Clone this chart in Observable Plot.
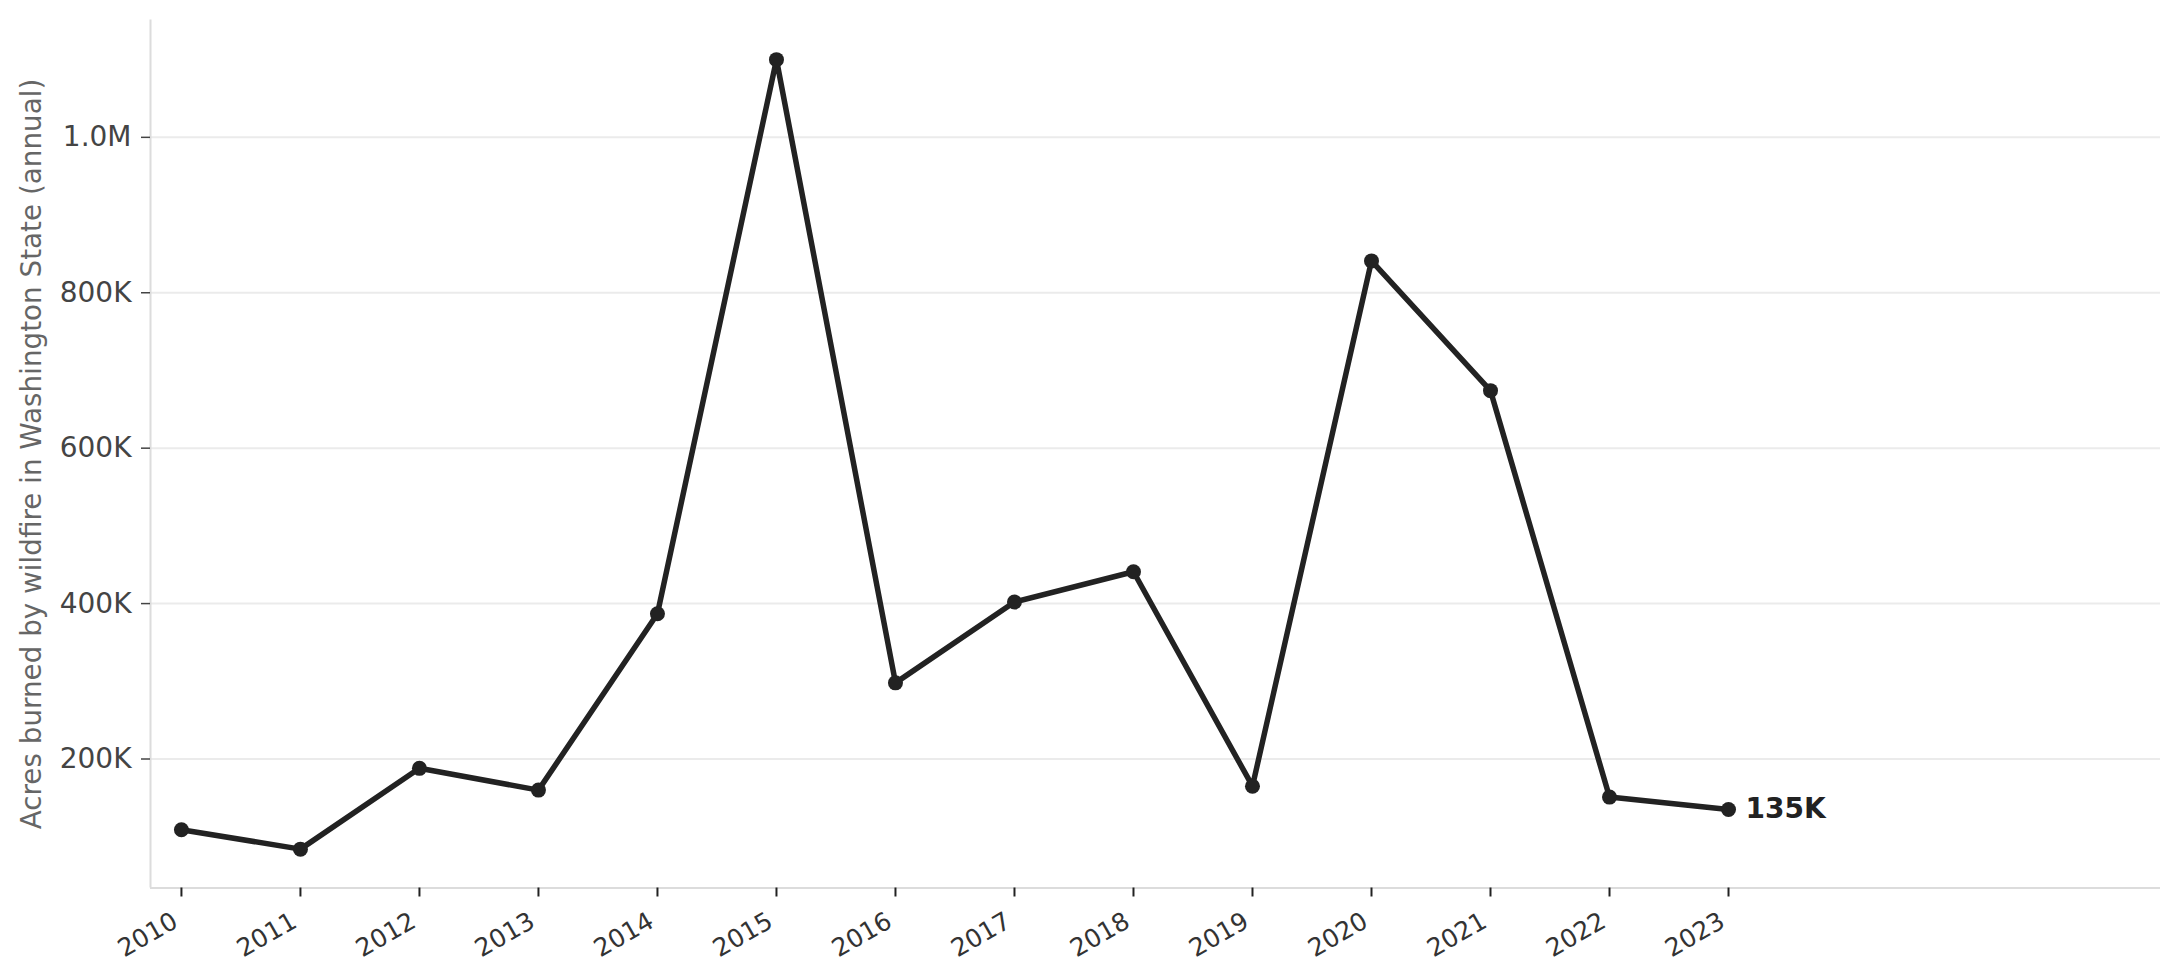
<!DOCTYPE html>
<html>
<head>
<meta charset="utf-8">
<script src="https://cdn.jsdelivr.net/npm/d3@7"></script>
<script src="https://cdn.jsdelivr.net/npm/@observablehq/plot@0.6"></script>
<style>
  html, body { margin: 0; padding: 0; background: #fff; }
  #chart svg { display: block; }
</style>
</head>
<body>
<div id="chart"></div>
<script>
const years = [2010, 2011, 2012, 2013, 2014, 2015, 2016, 2017, 2018, 2019, 2020, 2021, 2022, 2023];
const acres = [109000, 84000, 188000, 160000, 387000, 1100000, 298000, 402000, 441000, 165000, 841000, 674000, 151000, 135000];
const yTicks = [200000, 400000, 600000, 800000, 1000000];
const yTickLabels = ["200K", "400K", "600K", "800K", "1.0M"];
const yLabel = "Acres burned by wildfire in Washington State (annual)";
const lastLabel = "135K";

const xDomain = [2009.74, 2026.63];
const yDomain = [34000, 1151000];

const data = years.map((year, i) => ({year, acres: acres[i]}));
const last = [data[data.length - 1]];

const chart = Plot.plot({
  width: 2180,
  height: 980,
  marginLeft: 150,
  marginRight: 20,
  marginTop: 19.5,
  marginBottom: 92.5,
  style: {fontFamily: "DejaVu Sans", background: "#fff"},
  x: {domain: xDomain},
  y: {domain: yDomain},
  marks: [
    Plot.gridY(yTicks, {stroke: "#ebebeb", strokeOpacity: 1, strokeWidth: 2}),
    Plot.ruleX([xDomain[0]], {stroke: "#dcdcdc", strokeWidth: 2}),
    Plot.ruleY([yDomain[0]], {stroke: "#dcdcdc", strokeWidth: 2}),
    Plot.axisY(yTicks, {
      tickFormat: (d) => yTickLabels[yTicks.indexOf(d)],
      tickSize: 9, tickPadding: 10, fontSize: 28,
      stroke: "#444", strokeWidth: 1.5, fill: "#444", label: null
    }),
    Plot.axisX(years, {
      tickFormat: (d) => String(d),
      tickSize: 9, stroke: "#222", strokeWidth: 2, fill: null, label: null
    }),
    Plot.axisX(years, {
      tickFormat: (d) => String(d),
      tickSize: 0, tickPadding: 31, tickRotate: -30, fontSize: 25, dx: -6,
      fill: "#333", label: null
    }),
    Plot.text([yLabel], {
      frameAnchor: "left", rotate: -90, dx: -118,
      fontSize: 27.8, fill: "#666", textAnchor: "middle"
    }),
    Plot.line(data, {x: "year", y: "acres", stroke: "#222", strokeWidth: 5.5}),
    Plot.dot(data, {x: "year", y: "acres", r: 7.5, fill: "#222", stroke: null}),
    Plot.text(last, {
      x: "year", y: "acres", text: () => lastLabel, dx: 17,
      textAnchor: "start", fontSize: 28, fontWeight: "bold", fill: "#222"
    })
  ]
});
document.getElementById("chart").appendChild(chart);
</script>
</body>
</html>
